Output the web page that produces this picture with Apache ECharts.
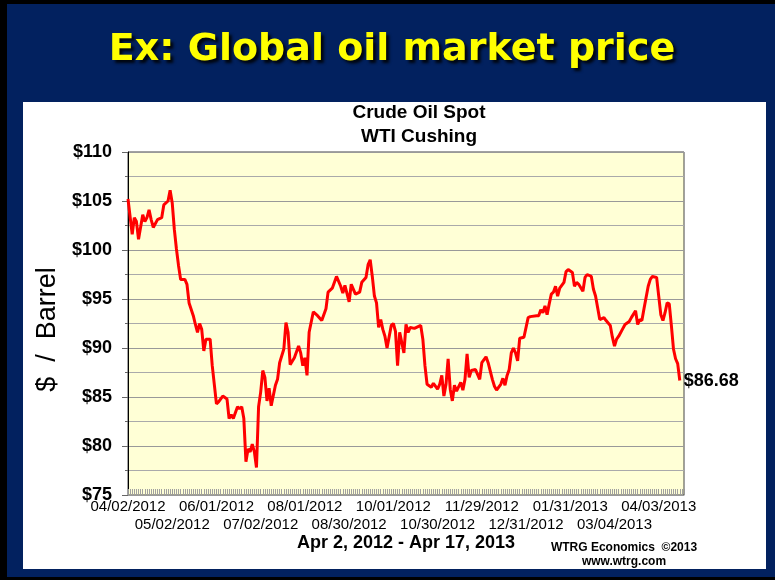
<!DOCTYPE html>
<html>
<head>
<meta charset="utf-8">
<title>Crude Oil Spot - WTI Cushing</title>
<script src="https://cdn.jsdelivr.net/npm/echarts@6/dist/echarts.min.js"></script>
<style>
  html, body { margin: 0; padding: 0; background: #000; }
  #main { width: 775px; height: 580px; }
</style>
</head>
<body>
<div id="main"></div>
<script>
// trading day number (0 = 04/02/2012) and WTI spot price
var tradingDay = [
  0, 2, 3, 4, 5, 7, 8, 9, 10, 11, 12, 14, 16, 17, 19, 20, 21, 22, 23, 24,
  25, 27, 28, 29, 31, 32, 33, 34, 35, 36, 37, 39, 40, 42, 43, 45, 47, 48, 49, 50,
  52, 53, 54, 55, 56, 57, 58, 59, 60, 61, 62, 63, 64, 65, 66, 67, 68, 70, 71, 72,
  74, 75, 76, 77, 79, 81, 82, 83, 84, 85, 86, 88, 90, 92, 94, 95, 97, 99, 101, 102,
  103, 105, 106, 108, 110, 111, 113, 114, 115, 116, 117, 118, 119, 120, 121, 122, 123, 125, 126, 127,
  128, 129, 131, 132, 133, 134, 136, 139, 140, 141, 142, 144, 145, 147, 148, 149, 150, 151, 152, 153,
  154, 155, 156, 158, 159, 160, 161, 162, 163, 165, 167, 168, 170, 171, 173, 174, 175, 177, 178, 179,
  180, 181, 182, 183, 184, 185, 186, 188, 190, 191, 194, 195, 196, 197, 198, 199, 200, 201, 202, 203,
  204, 205, 207, 208, 209, 211, 212, 213, 214, 216, 217, 218, 220, 221, 222, 223, 224, 226, 227, 229,
  230, 231, 232, 233, 235, 236, 238, 239, 241, 242, 243, 244, 245, 247, 248, 249, 251, 252, 253, 254,
  255, 256, 257, 258, 259, 260, 261, 262
];
var wtiPrice = [
  105.2, 101.6, 103.3, 102.9, 101.1, 103.6, 102.9, 103.3, 104.1, 103.1, 102.3, 103.1, 103.3, 104.6, 105.0, 106.1, 104.8, 102.1, 100.1, 98.4,
  97.0, 97.0, 96.5, 94.6, 93.3, 92.4, 91.6, 92.5, 91.9, 89.7, 90.9, 90.9, 88.2, 84.3, 84.5, 85.1, 84.8, 82.8, 83.2, 82.8,
  84.0, 83.8, 84.0, 82.8, 78.4, 79.7, 79.4, 80.2, 79.4, 77.8, 84.0, 85.5, 87.7, 87.0, 84.6, 85.9, 84.1, 86.2, 86.8, 88.5,
  89.9, 92.6, 91.6, 88.3, 89.0, 90.2, 89.5, 88.2, 89.0, 87.2, 91.6, 93.7, 93.3, 92.8, 94.0, 95.7, 96.1, 97.3, 96.3, 95.6,
  96.4, 94.7, 96.5, 95.5, 95.7, 96.7, 97.2, 98.5, 99.0, 97.3, 95.3, 94.6, 92.1, 92.9, 91.9, 91.2, 90.0, 92.3, 92.5, 91.7,
  88.2, 91.6, 89.5, 92.4, 91.6, 92.1, 92.0, 92.3, 90.9, 88.2, 86.3, 86.0, 86.4, 85.8, 86.3, 87.2, 85.1, 86.3, 88.9, 85.8,
  84.6, 86.2, 85.6, 86.5, 85.7, 86.8, 89.4, 87.0, 87.7, 87.8, 86.8, 88.5, 89.1, 88.5, 86.8, 86.1, 85.7, 86.3, 86.9, 86.2,
  87.2, 87.8, 89.5, 90.0, 89.5, 88.7, 91.0, 91.1, 93.1, 93.2, 93.3, 93.3, 93.9, 93.6, 94.3, 93.4, 94.5, 95.5, 95.7, 96.3,
  95.3, 96.1, 96.7, 97.8, 98.0, 97.7, 96.3, 96.7, 96.5, 95.8, 97.2, 97.5, 97.3, 96.0, 95.3, 94.1, 92.9, 93.1, 92.8, 92.3,
  91.1, 90.2, 90.9, 91.2, 92.0, 92.4, 92.7, 93.1, 93.8, 92.4, 92.9, 92.8, 94.0, 96.3, 97.0, 97.3, 97.2, 95.3, 93.4, 92.8,
  93.6, 94.6, 94.5, 92.3, 89.9, 88.9, 88.4, 86.68
];
// one date label every 21 trading days (even ones on the upper row, odd ones below)
var dateLabels = [
  '04/02/2012', '05/02/2012', '06/01/2012', '07/02/2012', '08/01/2012', '08/30/2012', '10/01/2012',
  '10/30/2012', '11/29/2012', '12/31/2012', '01/31/2013', '03/04/2013', '04/03/2013'
];
var labelStep = 21;

var seriesData = [];
for (var i = 0; i < tradingDay.length; i++) {
    seriesData.push([tradingDay[i], wtiPrice[i]]);
}

var sans = '"Liberation Sans", Arial, Helvetica, sans-serif';

function dateLabelFor(row) {
    return function (value) {
        if (value % labelStep !== 0) return '';
        var k = value / labelStep;
        if (k >= dateLabels.length || k % 2 !== row) return '';
        return dateLabels[k];
    };
}

option = {
    backgroundColor: '#000',
    animation: false,
    graphic: [
        { type: 'rect', z: -20, shape: { x: 7, y: 4, width: 768, height: 573 }, style: { fill: '#02215f' } },
        { type: 'rect', z: -10, shape: { x: 23, y: 102, width: 743, height: 467 }, style: { fill: '#fff' } }
    ],
    title: [
        {
            text: 'Ex: Global oil market price',
            left: 392, top: 28, textAlign: 'center', padding: 0,
            textStyle: {
                color: '#ffff00', fontFamily: '"DejaVu Sans", Verdana, sans-serif',
                fontWeight: 'bold', fontSize: 38, lineHeight: 44,
                textShadowColor: 'rgba(0,0,0,0.85)', textShadowBlur: 3,
                textShadowOffsetX: 3, textShadowOffsetY: 3
            }
        },
        {
            text: 'Crude Oil Spot\nWTI Cushing',
            left: 419, top: 101, textAlign: 'center', padding: 0,
            textStyle: { color: '#000', fontFamily: sans, fontWeight: 'bold', fontSize: 19, lineHeight: 24 }
        },
        {
            text: 'Apr 2, 2012 - Apr 17, 2013',
            left: 406, top: 532, textAlign: 'center', padding: 0,
            textStyle: { color: '#000', fontFamily: sans, fontWeight: 'bold', fontSize: 18, lineHeight: 22 }
        },
        {
            text: 'WTRG Economics  \u00a92013\nwww.wtrg.com',
            left: 624, top: 541, textAlign: 'center', padding: 0,
            textStyle: { color: '#000', fontFamily: sans, fontWeight: 'bold', fontSize: 12, lineHeight: 13.5 }
        }
    ],
    grid: {
        left: 128, right: 91, top: 152, bottom: 85,
        outerBoundsMode: 'none',
        show: true,
        backgroundColor: '#ffffd6',
        borderColor: '#444',
        borderWidth: 1
    },
    xAxis: [
        {
            type: 'value',
            position: 'bottom',
            min: 0, max: 264, interval: labelStep,
            axisLine: { show: true, lineStyle: { color: '#999' } },
            axisTick: { show: true, inside: true, length: 6, lineStyle: { color: '#999' } },
            minorTick: { show: true, splitNumber: labelStep, length: 6, lineStyle: { color: '#a0a0a0' } },
            splitLine: { show: false },
            axisLabel: {
                showMinLabel: true,
                color: '#000', fontFamily: sans, fontSize: 15, margin: 4,
                formatter: dateLabelFor(0)
            }
        },
        {
            type: 'value',
            position: 'bottom',
            min: 0, max: 264, interval: labelStep,
            axisLine: { show: false },
            axisTick: { show: false },
            splitLine: { show: false },
            axisLabel: {
                showMinLabel: true,
                color: '#000', fontFamily: sans, fontSize: 15, margin: 22,
                formatter: dateLabelFor(1)
            }
        }
    ],
    yAxis: {
        type: 'value',
        min: 75, max: 110, interval: 5,
        name: '$  /  Barrel',
        nameLocation: 'middle',
        nameGap: 48,
        nameRotate: 90,
        nameTextStyle: { color: '#000', fontFamily: sans, fontSize: 27, padding: [0, 12, 0, 0] },
        axisLine: { show: true, lineStyle: { color: '#000' } },
        axisTick: { show: true, length: 6, lineStyle: { color: '#666' } },
        minorTick: { show: true, splitNumber: 2, length: 3, lineStyle: { color: '#666' } },
        splitLine: { show: true, lineStyle: { color: '#999' } },
        minorSplitLine: { show: true, lineStyle: { color: '#aaa' } },
        axisLabel: {
            color: '#000', fontFamily: sans, fontWeight: 'bold', fontSize: 18, margin: 16,
            formatter: function (v) { return '$' + v; }
        }
    },
    series: [
        {
            name: 'WTI Cushing',
            type: 'line',
            xAxisIndex: 0,
            data: seriesData,
            symbol: 'none',
            lineStyle: { color: '#ff0000', width: 3 },
            endLabel: {
                show: true,
                distance: 4,
                color: '#000', fontFamily: sans, fontWeight: 'bold', fontSize: 18,
                formatter: function (p) { return '$' + p.value[1].toFixed(2); }
            }
        }
    ]
};

var myChart = echarts.init(document.getElementById('main'));
myChart.setOption(option);
</script>
</body>
</html>
